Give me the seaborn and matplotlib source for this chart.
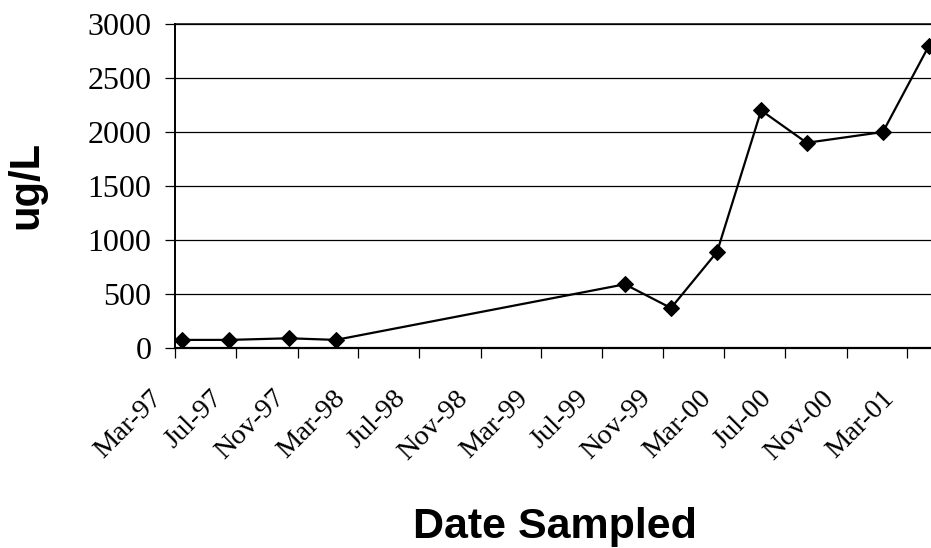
import matplotlib
matplotlib.use("Agg")
import matplotlib.pyplot as plt
import matplotlib.transforms as mtransforms
import pandas as pd
import seaborn as sns

# Sample dates and measured concentrations (ug/L)
sample_dates = ["1997-03-15", "1997-06-17", "1997-10-15", "1998-01-16",
                "1999-08-16", "1999-11-16", "2000-02-16", "2000-05-14",
                "2000-08-13", "2001-01-12", "2001-04-14"]
concentrations = [75, 75, 90, 75, 590, 370, 890, 2200, 1900, 2000, 2800]

# Date axis ticks every four months
tick_dates = ["1997-03-01", "1997-07-01", "1997-11-01", "1998-03-01",
              "1998-07-01", "1998-11-01", "1999-03-01", "1999-07-01",
              "1999-11-01", "2000-03-01", "2000-07-01", "2000-11-01",
              "2001-03-01"]
tick_labels = ["Mar-97", "Jul-97", "Nov-97", "Mar-98", "Jul-98", "Nov-98",
               "Mar-99", "Jul-99", "Nov-99", "Mar-00", "Jul-00", "Nov-00",
               "Mar-01"]
y_ticks = [0, 500, 1000, 1500, 2000, 2500, 3000]

sns.set_style("white")
plt.rcParams["font.family"] = ["Liberation Serif", "DejaVu Serif"]
plt.rcParams["text.color"] = "black"
plt.rcParams["xtick.color"] = "black"
plt.rcParams["ytick.color"] = "black"
plt.rcParams["axes.labelcolor"] = "black"

df = pd.DataFrame({"date": pd.to_datetime(sample_dates),
                   "conc": concentrations})

fig = plt.figure(figsize=(9.31, 5.48), dpi=100)
ax = fig.add_axes([175 / 931, 1 - 348 / 548, 756 / 931, 324 / 548])

sns.lineplot(data=df, x="date", y="conc", ax=ax, color="black",
             linewidth=1.6, marker="D", markersize=8,
             markeredgecolor="black", markerfacecolor="black", zorder=5)

ax.set_xlim(pd.Timestamp("1997-03-01"), pd.Timestamp("2001-04-18"))
ax.set_ylim(0, 3000)

ax.set_yticks(y_ticks)
ax.set_yticklabels([str(v) for v in y_ticks])
ax.set_xticks(pd.to_datetime(tick_dates))
ax.set_xticklabels(tick_labels, rotation=45, ha="right", va="top")

ax.yaxis.grid(True, color="black", linewidth=0.9)
ax.xaxis.grid(False)
ax.set_axisbelow(True)

ax.spines["right"].set_visible(False)
ax.spines["top"].set_color("black")
ax.spines["top"].set_linewidth(1.1)
ax.spines["left"].set_color("black")
ax.spines["left"].set_linewidth(1.4)
ax.spines["bottom"].set_color("black")
ax.spines["bottom"].set_linewidth(1.6)

ax.tick_params(axis="y", direction="out", length=7, width=0.9,
               colors="black", labelsize=23, pad=10, left=True)
ax.tick_params(axis="x", direction="out", length=7, width=0.9,
               colors="black", labelsize=20.5, pad=20, bottom=True)

shift = mtransforms.ScaledTranslation(-8 / 100, 0, fig.dpi_scale_trans)
for lbl in ax.get_xticklabels():
    lbl.set_transform(lbl.get_transform() + shift)

ax.set_xlabel("")
ax.set_ylabel("")

fig.text(37 / 931, 1 - 185 / 548, "ug/L", rotation=90,
         rotation_mode="anchor", ha="center", va="baseline",
         fontsize=30, fontweight="bold",
         family=["Liberation Sans", "DejaVu Sans"])
fig.text(555 / 931, 1 - 538 / 548, "Date Sampled", ha="center",
         va="baseline", fontsize=31, fontweight="bold",
         family=["Liberation Sans", "DejaVu Sans"])

fig.savefig("out.png", dpi=100)
